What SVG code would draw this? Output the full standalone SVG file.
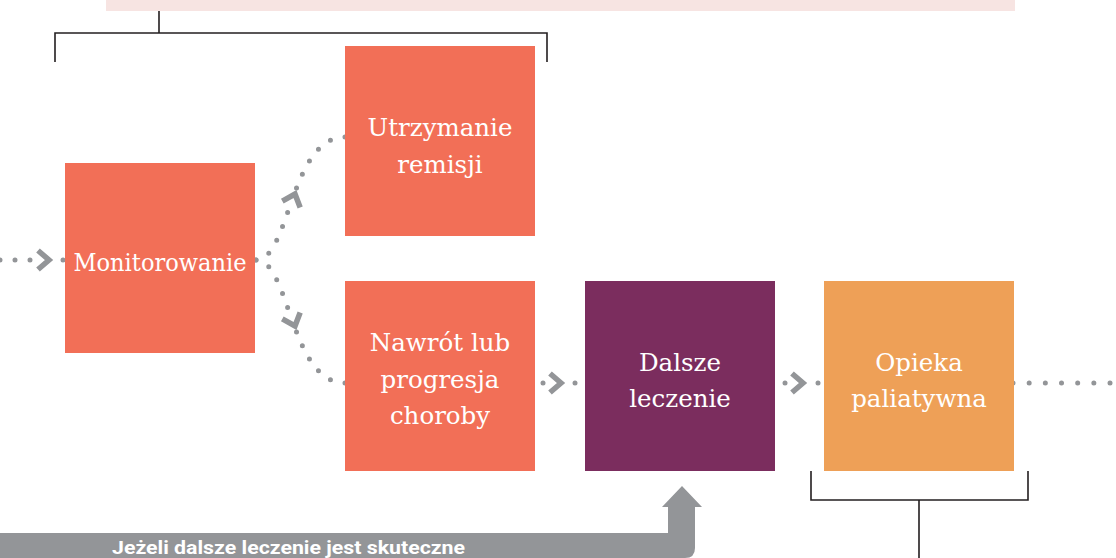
<svg xmlns="http://www.w3.org/2000/svg" width="1116" height="558" viewBox="0 0 1116 558">
<style>
.box{stroke:none}
.coral{fill:#f26f57}
.plum{fill:#7b2d5e}
.amber{fill:#eea057}
.lbl{font-family:"DejaVu Serif","Liberation Serif",serif;font-size:24.5px;fill:#ffffff;text-anchor:middle}
.dots{fill:none;stroke:#939598;stroke-width:5;stroke-linecap:round;stroke-dasharray:0 15}
.dots5{fill:none;stroke:#939598;stroke-width:5;stroke-linecap:round;stroke-dasharray:0 15 0 15 0 15 0 15 0 15 0 300}
.dot{fill:#939598}
.chev{fill:none;stroke:#939598;stroke-width:5.5;stroke-linejoin:miter}
.brk{fill:none;stroke:#231f20;stroke-width:1.6}
.band{font-family:Roboto,"Liberation Sans",sans-serif;font-weight:bold;font-size:18px;fill:#ffffff}
</style>
<defs>
<polyline id="chevron" class="chev" points="-11,-9.5 0,0 -11,9.5"/>
</defs>
<g id="top-band">
<rect x="106" y="0" width="909" height="11" fill="#f7e4e2"/>
</g>
<g id="brackets">
<path class="brk" d="M159,11 V33 M55,62 V33 H547 V62"/>
<path class="brk" d="M811,471 V500 H1028 V471 M919,500 V558"/>
</g>
<g id="connectors">
<line class="dots" x1="0" y1="260" x2="31" y2="260"/>
<use href="#chevron" transform="translate(49,260)"/>
<circle class="dot" cx="63" cy="260" r="2.5"/>
<path class="dots5" d="M256,260 C273,260 281.5,229.25 292.6,198.5"/>
<path class="dots5" d="M345,137 C317.5,137 303.75,167.75 292.6,198.5"/>
<use href="#chevron" transform="translate(295,194) rotate(-70)"/>
<path class="dots5" d="M256,260 C273,260 281.5,290.75 292.6,321.5"/>
<path class="dots5" d="M345,383 C317.5,383 303.75,352.25 292.6,321.5"/>
<use href="#chevron" transform="translate(295,326) rotate(70)"/>
<circle class="dot" cx="543" cy="383" r="2.5"/>
<use href="#chevron" transform="translate(561,383)"/>
<circle class="dot" cx="575" cy="383" r="2.5"/>
<circle class="dot" cx="785" cy="383" r="2.5"/>
<use href="#chevron" transform="translate(803,383)"/>
<circle class="dot" cx="818" cy="383" r="2.5"/>
<line class="dots" x1="1013" y1="383" x2="1111" y2="383" style="stroke-dasharray:0 16.17"/>
</g>
<g id="node-monitorowanie">
<rect class="box coral" x="65" y="163" width="190" height="190"/>
<text class="lbl" x="160" y="271" textLength="173" lengthAdjust="spacingAndGlyphs">Monitorowanie</text>
</g>
<g id="node-utrzymanie">
<rect class="box coral" x="345" y="46" width="190" height="190"/>
<text class="lbl" x="440" y="136">Utrzymanie</text>
<text class="lbl" x="440" y="173">remisji</text>
</g>
<g id="node-nawrot">
<rect class="box coral" x="345" y="281" width="190" height="190"/>
<text class="lbl" x="440" y="351">Nawrót lub</text>
<text class="lbl" x="440" y="388">progresja</text>
<text class="lbl" x="440" y="424">choroby</text>
</g>
<g id="node-dalsze">
<rect class="box plum" x="585" y="281" width="190" height="190"/>
<text class="lbl" x="680" y="371">Dalsze</text>
<text class="lbl" x="680" y="407">leczenie</text>
</g>
<g id="node-opieka">
<rect class="box amber" x="824" y="281" width="190" height="190"/>
<text class="lbl" x="919" y="371">Opieka</text>
<text class="lbl" x="919" y="407">paliatywna</text>
</g>
<g id="feedback-arrow">
<path fill="#939598" d="M0,533 H668 V507 H662 L682,486 L702,507 H695 V548 Q695,558 685,558 H0 Z"/>
<text class="band" x="112" y="554" textLength="353" lengthAdjust="spacingAndGlyphs">Jeżeli dalsze leczenie jest skuteczne</text>
</g>
</svg>
